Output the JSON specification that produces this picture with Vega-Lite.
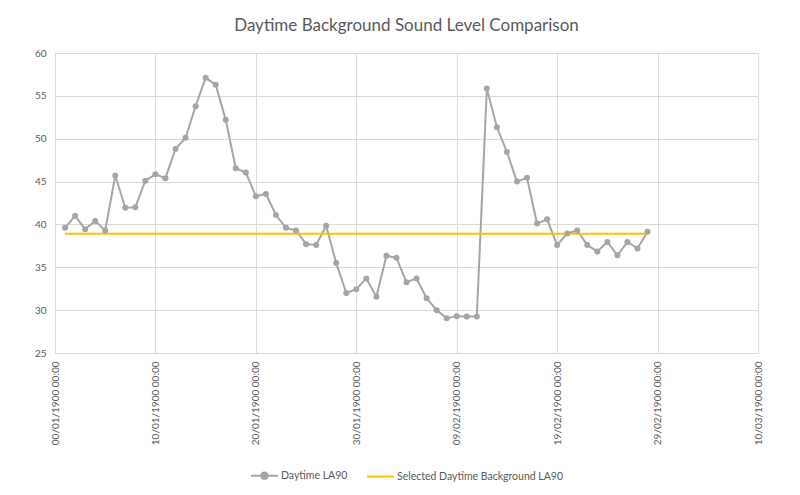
{
  "$schema": "https://vega.github.io/schema/vega-lite/v6.json",
  "autosize": "none",
  "width": 703,
  "height": 300,
  "padding": {"left": 55, "top": 53, "right": 42, "bottom": 142},
  "background": "white",
  "title": {
    "text": "Daytime Background Sound Level Comparison",
    "fontSize": 17,
    "font": "Lato",
    "fontWeight": "normal",
    "color": "#595959",
    "anchor": "middle",
    "offset": 13
  },
  "config": {
    "view": {"stroke": null},
    "axis": {
      "labelFont": "Lato",
      "labelFontSize": 10,
      "labelColor": "#595959",
      "gridColor": "#d9d9d9",
      "gridWidth": 1,
      "domainColor": "#d9d9d9",
      "ticks": false,
      "title": null
    },
    "legend": {"labelFont": "Lato", "labelFontSize": 10.5, "labelColor": "#595959", "labelLimit": 400}
  },
  "datasets": {
    "obs": [
      {"day": 1, "value": 39.6, "series": "Daytime LA90"},
      {"day": 2, "value": 41.0, "series": "Daytime LA90"},
      {"day": 3, "value": 39.45, "series": "Daytime LA90"},
      {"day": 4, "value": 40.4, "series": "Daytime LA90"},
      {"day": 5, "value": 39.3, "series": "Daytime LA90"},
      {"day": 6, "value": 45.7, "series": "Daytime LA90"},
      {"day": 7, "value": 41.95, "series": "Daytime LA90"},
      {"day": 8, "value": 42.0, "series": "Daytime LA90"},
      {"day": 9, "value": 45.1, "series": "Daytime LA90"},
      {"day": 10, "value": 45.85, "series": "Daytime LA90"},
      {"day": 11, "value": 45.4, "series": "Daytime LA90"},
      {"day": 12, "value": 48.8, "series": "Daytime LA90"},
      {"day": 13, "value": 50.1, "series": "Daytime LA90"},
      {"day": 14, "value": 53.8, "series": "Daytime LA90"},
      {"day": 15, "value": 57.1, "series": "Daytime LA90"},
      {"day": 16, "value": 56.3, "series": "Daytime LA90"},
      {"day": 17, "value": 52.2, "series": "Daytime LA90"},
      {"day": 18, "value": 46.55, "series": "Daytime LA90"},
      {"day": 19, "value": 46.05, "series": "Daytime LA90"},
      {"day": 20, "value": 43.3, "series": "Daytime LA90"},
      {"day": 21, "value": 43.55, "series": "Daytime LA90"},
      {"day": 22, "value": 41.1, "series": "Daytime LA90"},
      {"day": 23, "value": 39.6, "series": "Daytime LA90"},
      {"day": 24, "value": 39.3, "series": "Daytime LA90"},
      {"day": 25, "value": 37.7, "series": "Daytime LA90"},
      {"day": 26, "value": 37.6, "series": "Daytime LA90"},
      {"day": 27, "value": 39.85, "series": "Daytime LA90"},
      {"day": 28, "value": 35.5, "series": "Daytime LA90"},
      {"day": 29, "value": 32.0, "series": "Daytime LA90"},
      {"day": 30, "value": 32.45, "series": "Daytime LA90"},
      {"day": 31, "value": 33.7, "series": "Daytime LA90"},
      {"day": 32, "value": 31.55, "series": "Daytime LA90"},
      {"day": 33, "value": 36.35, "series": "Daytime LA90"},
      {"day": 34, "value": 36.1, "series": "Daytime LA90"},
      {"day": 35, "value": 33.25, "series": "Daytime LA90"},
      {"day": 36, "value": 33.7, "series": "Daytime LA90"},
      {"day": 37, "value": 31.4, "series": "Daytime LA90"},
      {"day": 38, "value": 30.0, "series": "Daytime LA90"},
      {"day": 39, "value": 29.05, "series": "Daytime LA90"},
      {"day": 40, "value": 29.3, "series": "Daytime LA90"},
      {"day": 41, "value": 29.25, "series": "Daytime LA90"},
      {"day": 42, "value": 29.25, "series": "Daytime LA90"},
      {"day": 43, "value": 55.85, "series": "Daytime LA90"},
      {"day": 44, "value": 51.35, "series": "Daytime LA90"},
      {"day": 45, "value": 48.45, "series": "Daytime LA90"},
      {"day": 46, "value": 45.0, "series": "Daytime LA90"},
      {"day": 47, "value": 45.45, "series": "Daytime LA90"},
      {"day": 48, "value": 40.1, "series": "Daytime LA90"},
      {"day": 49, "value": 40.6, "series": "Daytime LA90"},
      {"day": 50, "value": 37.6, "series": "Daytime LA90"},
      {"day": 51, "value": 38.95, "series": "Daytime LA90"},
      {"day": 52, "value": 39.3, "series": "Daytime LA90"},
      {"day": 53, "value": 37.6, "series": "Daytime LA90"},
      {"day": 54, "value": 36.85, "series": "Daytime LA90"},
      {"day": 55, "value": 37.95, "series": "Daytime LA90"},
      {"day": 56, "value": 36.4, "series": "Daytime LA90"},
      {"day": 57, "value": 37.95, "series": "Daytime LA90"},
      {"day": 58, "value": 37.2, "series": "Daytime LA90"},
      {"day": 59, "value": 39.15, "series": "Daytime LA90"},
      {"day": 1, "value": 38.9, "series": "Selected Daytime Background LA90"},
      {"day": 59, "value": 38.9, "series": "Selected Daytime Background LA90"}
    ]
  },
  "data": {"name": "obs"},
  "encoding": {
    "x": {
      "field": "day",
      "type": "quantitative",
      "scale": {"domain": [0, 70], "nice": false, "zero": false},
      "axis": {
        "values": [0, 10, 20, 30, 40, 50, 60, 70],
        "labelAngle": -90,
        "labelAlign": "right",
        "labelBaseline": "middle",
        "labelPadding": 8,
        "labelExpr": "['00/01/1900 00:00','10/01/1900 00:00','20/01/1900 00:00','30/01/1900 00:00','09/02/1900 00:00','19/02/1900 00:00','29/02/1900 00:00','10/03/1900 00:00'][round(datum.value/10)]",
        "domain": true,
        "labelOverlap": false
      }
    },
    "y": {
      "field": "value",
      "type": "quantitative",
      "scale": {"domain": [25, 60], "nice": false, "zero": false},
      "axis": {"values": [25, 30, 35, 40, 45, 50, 55, 60], "labelPadding": 9, "domain": false}
    },
    "color": {
      "field": "series",
      "type": "nominal",
      "scale": {
        "domain": ["Daytime LA90", "Selected Daytime Background LA90"],
        "range": ["#a5a5a5", "#ffc000"]
      },
      "legend": {
        "title": null,
        "orient": "none",
        "direction": "horizontal",
        "legendX": 195,
        "legendY": 408,
        "symbolSize": 729,
        "symbolStrokeWidth": 2,
        "columnPadding": 15,
        "labelOffset": 2,
        "encode": {
          "symbols": {
            "update": {
              "shape": {"signal": "datum.value === 'Daytime LA90' ? 'M-1,0L1,0M-0.24,0A0.24,0.24,0,1,0,0.24,0A0.24,0.24,0,1,0,-0.24,0Z' : 'M-1,0L1,0'"},
              "fill": {"signal": "datum.value === 'Daytime LA90' ? '#a5a5a5' : 'transparent'"}
            }
          }
        }
      }
    }
  },
  "layer": [
    {"mark": {"type": "line", "strokeWidth": 2}, "encoding": {}},
    {
      "transform": [{"filter": "datum.series === 'Daytime LA90'"}],
      "mark": {"type": "point", "filled": true, "size": 36, "opacity": 1},
      "encoding": {}
    }
  ]
}
